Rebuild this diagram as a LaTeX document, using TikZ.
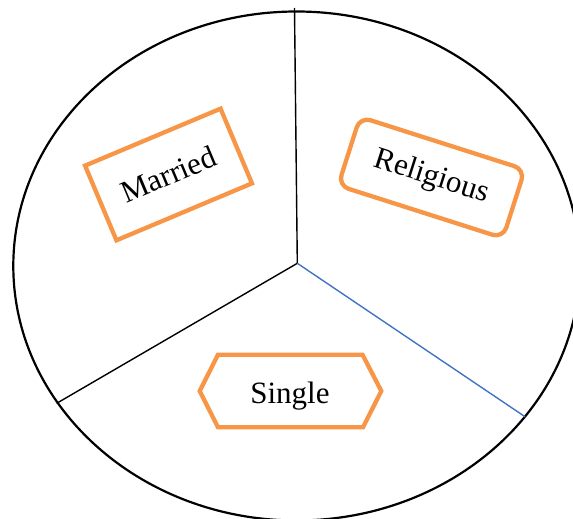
\documentclass[tikz,border=0pt]{standalone}
\usepackage{fontspec}
\setmainfont{Liberation Serif}
\usetikzlibrary{calc}
\definecolor{boxorange}{HTML}{F79646}
\definecolor{spokeblue}{HTML}{4472C4}
\tikzset{
  orangebox/.style={draw=boxorange, line width=4.3pt, fill=white, inner sep=0pt,
    font=\fontsize{31}{36}\selectfont},
  spoke/.style={line width=1.4pt, draw=black},
  rim/.style={line width=2.2pt, draw=black}
}
\begin{document}
\begin{tikzpicture}[x=1pt,y=-1pt]
\useasboundingbox (0,0) rectangle (573,519);
\clip (0,0) rectangle (573,519);
\fill[white] (0,0) rectangle (573,519);
% outer ellipse
\draw[rim] (296.6,266) ellipse [x radius=283.3, y radius=254.5];
% spokes
\coordinate (c) at (297.3,263.3);
\coordinate (t) at (294.5,8);
\coordinate (l) at (56.7,403.3);
\coordinate (r) at (525,416.7);
\draw[spoke] (c) -- (t);
\draw[spoke] (c) -- (l);
\draw[spoke, draw=spokeblue] (c) -- (r);
% Married
\node[orangebox, rectangle, minimum width=147pt, minimum height=81pt, rotate=22.8]
  (married) at (168.5,174.5) {Married};
% Religious
\node[orangebox, rectangle, rounded corners=11pt, minimum width=173pt, minimum height=72pt, rotate=-17.7]
  (religious) at (431.5,177.5) {Religious};
% Single hexagon
\coordinate (hexc) at (290.5,391);
\draw[draw=boxorange, line width=4.3pt, line join=miter]
  ($(hexc)+(-90.8,0)$) -- ($(hexc)+(-72.5,-36.3)$) -- ($(hexc)+(72,-36.3)$)
  -- ($(hexc)+(90.8,0)$) -- ($(hexc)+(72.5,36.3)$) -- ($(hexc)+(-72.5,36.3)$) -- cycle;
\node[font=\fontsize{31}{36}\selectfont, anchor=base, inner sep=0pt] (single) at (290,403.3) {Single};
\end{tikzpicture}
\end{document}
